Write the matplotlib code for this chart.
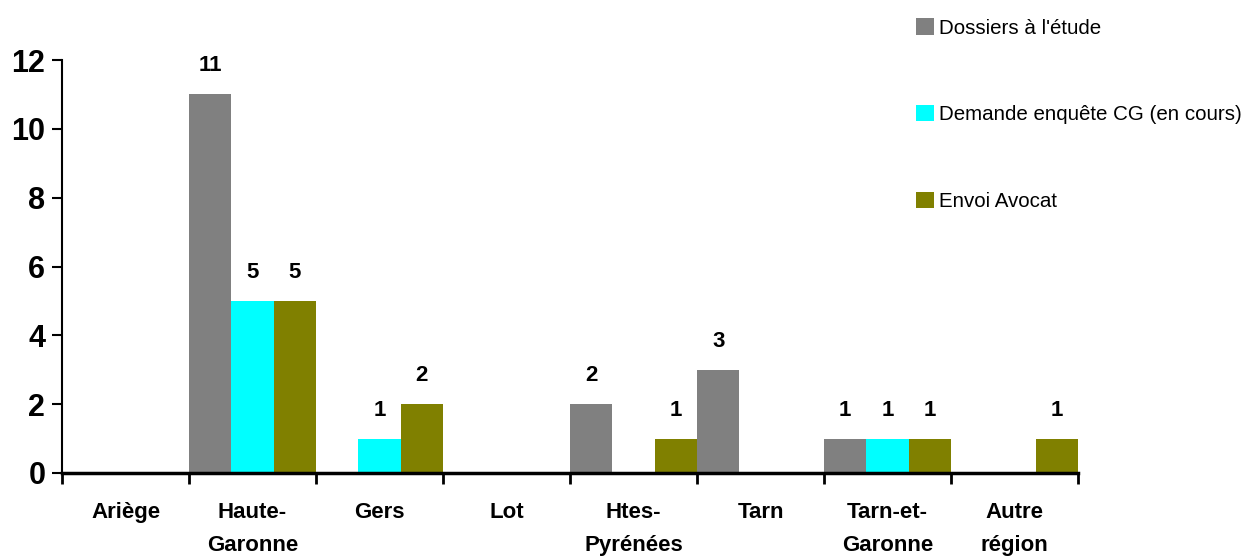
import matplotlib
matplotlib.use("Agg")
import matplotlib.pyplot as plt
import numpy as np

categories = ["Ariège", "Haute-\nGaronne", "Gers", "Lot", "Htes-\nPyrénées", "Tarn", "Tarn-et-\nGaronne", "Autre\nrégion"]
series_names = ["Dossiers à l'étude", "Demande enquête CG (en cours)", "Envoi Avocat"]
dossiers = [0, 11, 0, 0, 2, 3, 1, 0]
demande = [0, 5, 1, 0, 0, 0, 1, 0]
avocat = [0, 5, 2, 0, 1, 0, 1, 1]
colors = ["#808080", "#00FFFF", "#808000"]
yticks = [0, 2, 4, 6, 8, 10, 12]

normal = ["Liberation Sans", "DejaVu Sans"]

fig = plt.figure(figsize=(12.55, 5.59), dpi=100)
ax = fig.add_axes([62/1255, 1-473/559, (1078-62)/1255, (473-60)/559])

n = len(categories)
x = np.arange(n)
w = 1/3
handles = []
for k, (vals, col, name) in enumerate(zip([dossiers, demande, avocat], colors, series_names)):
    xs = x + k*w
    bars = ax.bar(xs, vals, width=w, align="edge", color=col, label=name, linewidth=0)
    handles.append(bars)
    for xi, v in zip(xs, vals):
        if v > 0:
            ax.annotate(str(v), (xi + w/2, v), xytext=(0, 13), textcoords="offset points",
                        ha="center", va="bottom", fontsize=16, fontweight="bold", family=normal)

ax.set_xlim(0, n)
ax.set_ylim(0, 12)
ax.set_xticks(np.arange(n+1))
ax.set_xticklabels([])
ax.set_xticks(x + 0.5, minor=True)
ax.set_xticklabels(categories, minor=True, fontsize=16, fontweight="bold", family=normal, linespacing=1.75)
ax.tick_params(axis="x", which="minor", length=0, pad=21)
ax.tick_params(axis="x", which="major", length=8, width=2, direction="out")
ax.set_yticks(yticks)
ax.set_yticklabels([str(t) for t in yticks], fontsize=22, fontweight="bold", family=normal)
ax.tick_params(axis="y", length=7, width=1.5, direction="out", pad=5)
for lab in ax.get_xticklabels(minor=True):
    lab.set_verticalalignment("top")

for s in ["top", "right"]:
    ax.spines[s].set_visible(False)
ax.spines["left"].set_linewidth(1.5)
ax.spines["bottom"].set_linewidth(2.5)
ax.patch.set_alpha(0)

leg = fig.legend(handles=handles, labels=series_names, loc="upper left",
                 bbox_to_anchor=(908/1255, 1-10/559), frameon=False,
                 prop={"family": normal, "size": 14.8}, labelspacing=3.28,
                 handlelength=0.85, handleheight=0.85, handletextpad=0.25, borderaxespad=0)

fig.savefig("out.png", dpi=100)
